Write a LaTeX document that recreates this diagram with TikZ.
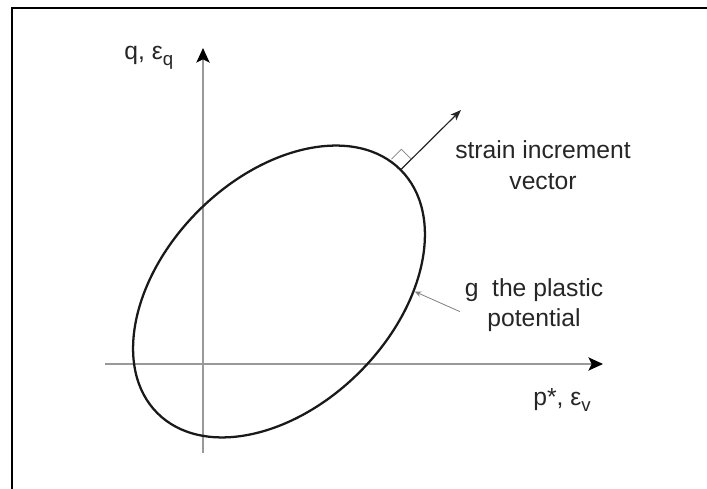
\documentclass[tikz,border=0pt]{standalone}
\usepackage{fontspec}
\setmainfont{Liberation Sans}
\usetikzlibrary{arrows.meta,shapes.geometric}
\newcommand{\lowsub}[1]{\raisebox{-0.45ex}{\fontsize{14}{14}\selectfont #1}}
\begin{document}
\begin{tikzpicture}[x=0.75pt,y=0.75pt,
    axis/.style={draw=gray!80, line width=0.9pt, -{Stealth[black,length=11pt,width=10pt,inset=2.5pt]}},
    lbl/.style={font=\fontsize{18.5}{23}\selectfont, align=center, text=black!85}]
        \useasboundingbox (-203,-125) rectangle (504,364);
        % frame
        \draw[line width=1.6pt] (504,356) -- (-191,356) -- (-191,-125);

        % axes
        \coordinate (xs) at (-98,0);
        \coordinate (xe) at (400,0);
        \coordinate (ys) at (0,-89);
        \coordinate (ye) at (0,316);
        \draw[axis] (xs) -- (xe);
        \draw[axis] (ys) -- (ye);
        \node[lbl, anchor=east] (ql) at (-25,306) {q, ε\lowsub{q}};
        \node[lbl] (pl) at (359,-36) {p*, ε\lowsub{v}};

        % plastic potential g
        \node[draw=black!90, ellipse, rotate=45, line width=1.7pt, minimum width=258pt,
              minimum height=171pt, inner sep=0pt] (g) at (76,72.5) {};

        % strain increment vector, normal to g
        \coordinate (tip) at (258,254);
        \draw[black!85, line width=0.9pt, -{Stealth[length=8pt,width=6pt,inset=2pt]}] (g.east) -- (tip);
        \draw[gray, line width=0.5pt, shift={(g.east)}, rotate=45] (10.5pt,0) -- (10.5pt,10.5pt) -- (0,10.5pt);
        \node[lbl] (sv) at (340,199) {strain increment\\vector};

        % label of g
        \node[lbl] (gp) at (331,59) {g\ \ the plastic\\potential};
        \draw[gray, line width=0.6pt, -{Stealth[length=5pt,width=4pt]}] ([yshift=-5pt]gp.west) -- (g.-45);
    \end{tikzpicture}
\end{document}
